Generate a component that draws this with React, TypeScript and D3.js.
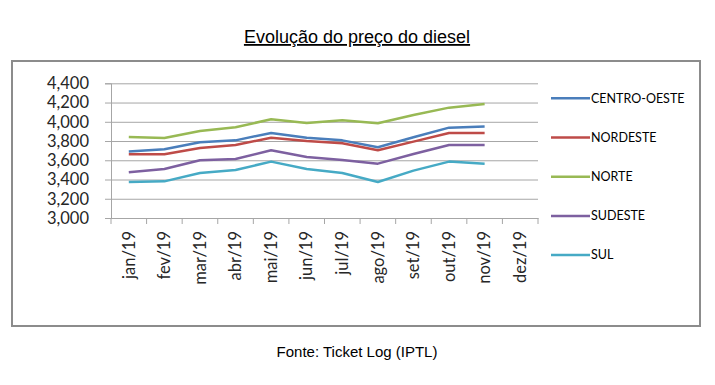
import React, { useEffect, useRef } from 'react';
import * as d3 from 'd3';

// Months on the x axis (dez/19 has no data yet)
const months = ['jan/19', 'fev/19', 'mar/19', 'abr/19', 'mai/19', 'jun/19', 'jul/19', 'ago/19', 'set/19', 'out/19', 'nov/19', 'dez/19'];

const regions = ['CENTRO-OESTE', 'NORDESTE', 'NORTE', 'SUDESTE', 'SUL'];

const centroOeste = [3690, 3714, 3787, 3807, 3884, 3835, 3807, 3735, 3840, 3939, 3950];
const nordeste = [3662, 3662, 3728, 3759, 3835, 3800, 3776, 3704, 3794, 3884, 3884];
const norte = [3842, 3832, 3904, 3943, 4026, 3988, 4015, 3984, 4070, 4147, 4185];
const sudeste = [3475, 3510, 3600, 3613, 3704, 3634, 3603, 3565, 3665, 3759, 3759];
const sul = [3374, 3381, 3468, 3499, 3586, 3510, 3468, 3374, 3492, 3586, 3565];

const yTicks = [3000, 3200, 3400, 3600, 3800, 4000, 4200, 4400];

const seriesColors = ['#4A7EBB', '#BE4B48', '#98B954', '#7D60A0', '#46AAC5'];

const App = () => {
  const svgRef = useRef<SVGSVGElement>(null);

  useEffect(() => {
    const svg = d3.select(svgRef.current);
    svg.selectAll('*').remove();

    const width = 715;
    const height = 385;
    const plot = { left: 111, right: 538, top: 83.3, bottom: 218 };
    const font = 'Lato, "Open Sans", sans-serif';

    // Title
    svg.append('text')
      .attr('x', 357)
      .attr('y', 43)
      .attr('text-anchor', 'middle')
      .style('font-family', '"Liberation Sans", Arial, sans-serif')
      .style('font-size', '18px')
      .style('text-decoration', 'underline')
      .attr('fill', '#000')
      .text('Evolução do preço do diesel');

    // Frame
    svg.append('rect')
      .attr('x', 12)
      .attr('y', 61)
      .attr('width', 688)
      .attr('height', 265)
      .attr('fill', '#fff')
      .attr('stroke', '#8c8c8c')
      .attr('stroke-width', 2);

    const x = d3.scaleBand()
      .domain(months)
      .range([plot.left, plot.right]);

    const y = d3.scaleLinear()
      .domain([3000, 4400])
      .range([plot.bottom, plot.top]);

    // Gridlines
    svg.append('g')
      .attr('transform', `translate(${plot.left},0)`)
      .call(
        d3.axisLeft(y)
          .tickValues(yTicks)
          .tickSize(-(plot.right - plot.left))
          .tickFormat(() => '')
      )
      .call(g => g.select('.domain').remove())
      .selectAll('line')
      .attr('stroke', '#a6a6a6');

    // Y axis
    const yAxis = svg.append('g')
      .attr('transform', `translate(${plot.left},0)`)
      .call(
        d3.axisLeft(y)
          .tickValues(yTicks)
          .tickSize(6)
          .tickPadding(16)
          .tickFormat(d3.format(','))
      );
    yAxis.select('.domain').attr('stroke', '#a6a6a6');
    yAxis.selectAll('line').attr('stroke', '#a6a6a6');
    yAxis.selectAll('text')
      .style('font-family', font)
      .style('font-size', '16.5px')
      .attr('fill', '#262626');

    // X axis
    const xAxis = svg.append('g')
      .attr('transform', `translate(0,${plot.bottom})`)
      .call(d3.axisBottom(x).tickSize(0).tickSizeOuter(0));
    xAxis.select('.domain').attr('stroke', '#a6a6a6');
    xAxis.selectAll('text')
      .attr('transform', 'rotate(-90)')
      .attr('x', -13)
      .attr('y', 0)
      .attr('dy', '0.35em')
      .style('text-anchor', 'end')
      .style('font-family', font)
      .style('font-size', '16.5px')
      .attr('fill', '#262626');

    // Tick marks between categories
    const boundaries = months.map(m => x(m) as number).concat([plot.right]);
    svg.append('g')
      .selectAll('line')
      .data(boundaries)
      .join('line')
      .attr('x1', d => d)
      .attr('x2', d => d)
      .attr('y1', plot.bottom)
      .attr('y2', plot.bottom + 6)
      .attr('stroke', '#a6a6a6');

    // Lines
    const values = [centroOeste, nordeste, norte, sudeste, sul];
    const line = d3.line<number>()
      .x((_, i) => (x(months[i]) as number) + x.bandwidth() / 2)
      .y(d => y(d));

    svg.append('g')
      .selectAll('path')
      .data(values)
      .join('path')
      .attr('d', d => line(d))
      .attr('fill', 'none')
      .attr('stroke', (_, i) => seriesColors[i])
      .attr('stroke-width', 2.5)
      .attr('stroke-linejoin', 'round');

    // Legend
    const legend = svg.append('g')
      .selectAll('g')
      .data(regions)
      .join('g')
      .attr('transform', (_, i) => `translate(551,${98.3 + i * 39.2})`);

    legend.append('line')
      .attr('x1', 0)
      .attr('x2', 39)
      .attr('stroke', (_, i) => seriesColors[i])
      .attr('stroke-width', 2.5);

    legend.append('text')
      .attr('x', 40)
      .attr('dy', '0.35em')
      .style('font-family', font)
      .style('font-size', '12.5px')
      .attr('fill', '#000')
      .text(d => d);

    // Source
    svg.append('text')
      .attr('x', 357)
      .attr('y', 357)
      .attr('text-anchor', 'middle')
      .style('font-family', '"Liberation Sans", Arial, sans-serif')
      .style('font-size', '15px')
      .attr('fill', '#000')
      .text('Fonte: Ticket Log (IPTL)');

    svg.attr('width', width).attr('height', height);
  }, []);

  return <svg ref={svgRef} width="715" height="385" style={{ position: 'absolute', left: 0, top: 0, background: '#fff' }}></svg>;
};

export default App;
